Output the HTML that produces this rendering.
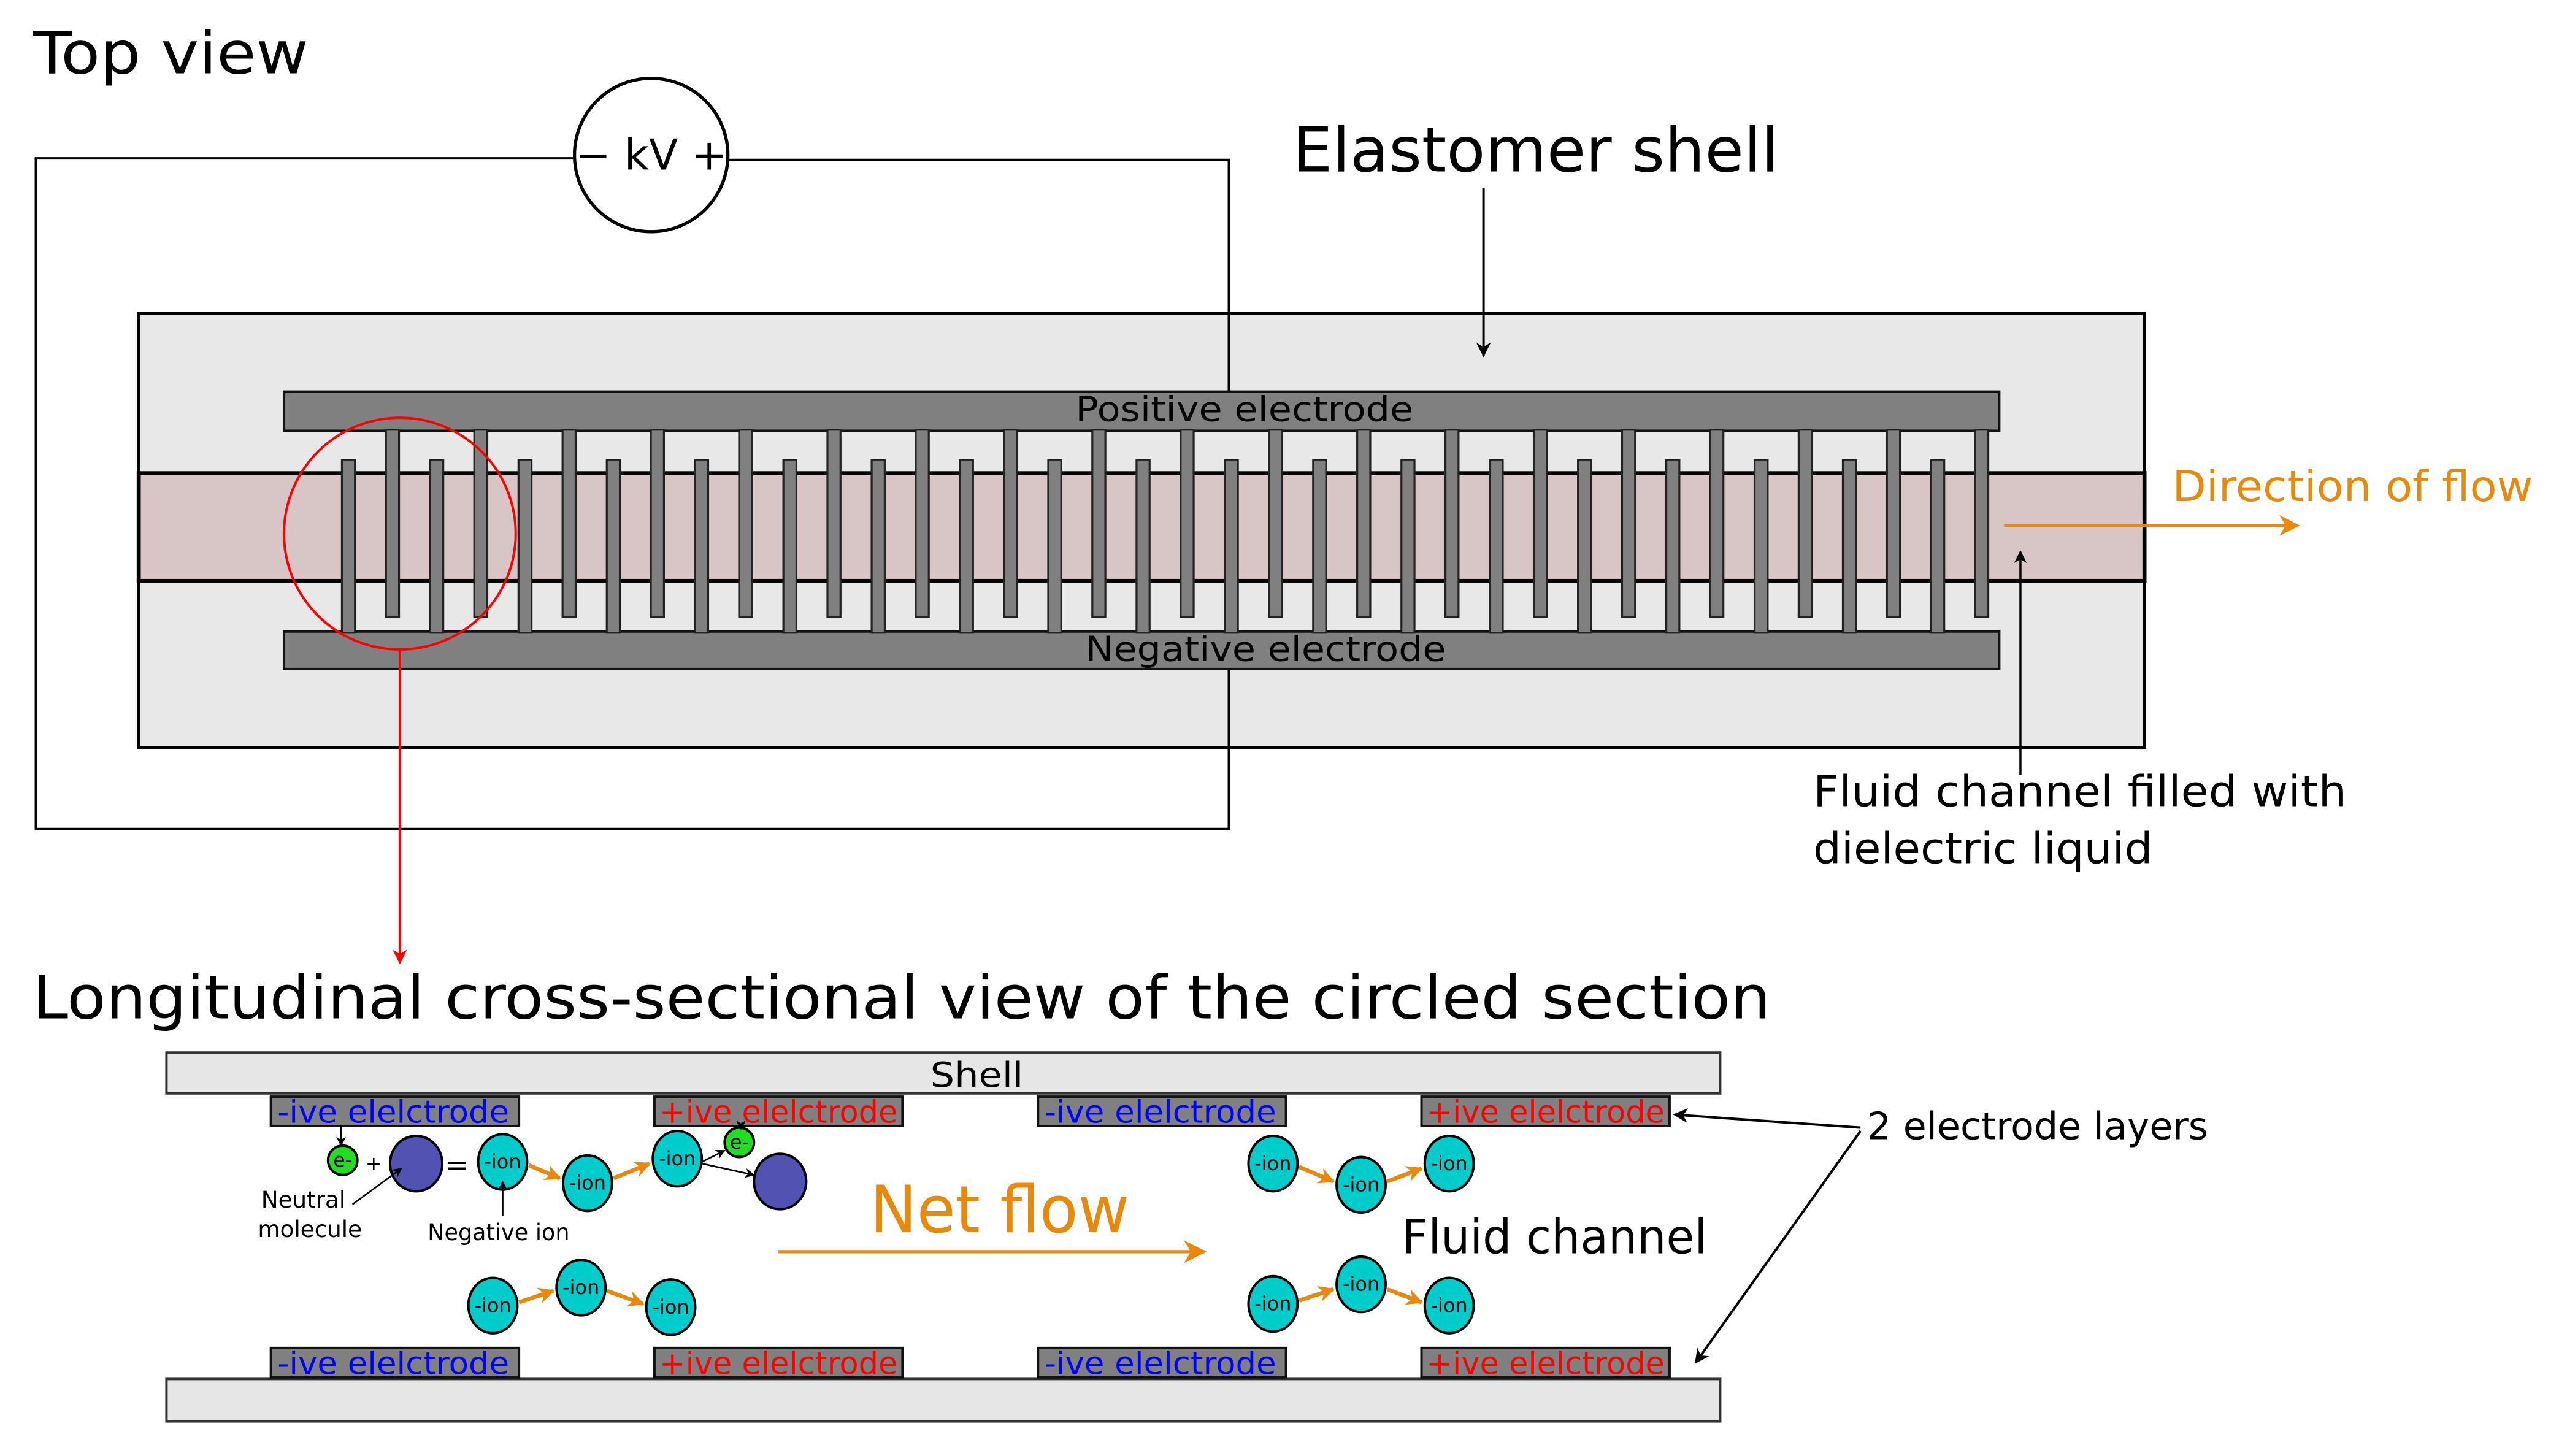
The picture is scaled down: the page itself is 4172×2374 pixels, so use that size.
<!DOCTYPE html>
<html><head><meta charset="utf-8"><style>
html,body{margin:0;padding:0;background:#fff;}
svg{display:block;}
text{font-family:"DejaVu Sans","Liberation Sans",sans-serif;}
</style></head><body>
<svg width="4172" height="2374" viewBox="0 0 1568 892.2" preserveAspectRatio="none" xmlns="http://www.w3.org/2000/svg">
<defs>
<marker id="ab" viewBox="0 0 10 10" refX="9" refY="5" markerWidth="6" markerHeight="6" orient="auto"><path d="M0,0 L10,5 L0,10 L3,5 z" fill="#000"/></marker>
<marker id="ar" viewBox="0 0 10 10" refX="9" refY="5" markerWidth="6" markerHeight="6" orient="auto"><path d="M0,0 L10,5 L0,10 L3,5 z" fill="#f00"/></marker>
<marker id="ao" viewBox="0 0 10 10" refX="9" refY="5" markerWidth="7" markerHeight="7" orient="auto"><path d="M0,0 L10,5 L0,10 L3,5 z" fill="#e8890c"/></marker>
<marker id="ao2" viewBox="0 0 10 10" refX="9" refY="5" markerWidth="4" markerHeight="4" orient="auto"><path d="M0,0 L10,5 L0,10 L3,5 z" fill="#e8890c"/></marker>
</defs>
<rect width="1568" height="892.2" fill="#fff"/>
<text x="20" y="45" font-size="36" textLength="169" lengthAdjust="spacingAndGlyphs">Top view</text>

<path d="M352,97 H22 V508 H753 V410" fill="none" stroke="#000" stroke-width="1.5"/>
<path d="M446,98 H753 V240" fill="none" stroke="#000" stroke-width="1.5"/>

<rect x="85" y="192" width="1229" height="266" fill="#e8e8e8" stroke="#000" stroke-width="2"/>
<path d="M753,192 V240 M753,410 V458" stroke="#000" stroke-width="1.5"/>

<circle cx="399" cy="95" r="47" fill="#fff" stroke="#000" stroke-width="2"/>
<text x="399" y="104" font-size="26" text-anchor="middle">− kV +</text>

<text x="792" y="105" font-size="38" textLength="298" lengthAdjust="spacingAndGlyphs">Elastomer shell</text>
<line x1="909" y1="115" x2="909" y2="218" stroke="#000" stroke-width="1.5" marker-end="url(#ab)"/>

<rect x="85" y="290" width="1229" height="66" fill="#d8c5c5" stroke="#000" stroke-width="2.5"/>

<rect x="174" y="240" width="1051" height="24" fill="#808080" stroke="#111" stroke-width="1.5"/>
<rect x="174" y="387" width="1051" height="23" fill="#808080" stroke="#111" stroke-width="1.5"/>

<g fill="#808080" stroke="#222" stroke-width="1.2">
<rect x="209.5" y="282" width="8" height="106"/><rect x="263.6" y="282" width="8" height="106"/><rect x="317.7" y="282" width="8" height="106"/><rect x="371.8" y="282" width="8" height="106"/><rect x="425.9" y="282" width="8" height="106"/><rect x="480" y="282" width="8" height="106"/><rect x="534.1" y="282" width="8" height="106"/><rect x="588.2" y="282" width="8" height="106"/><rect x="642.3" y="282" width="8" height="106"/><rect x="696.4" y="282" width="8" height="106"/><rect x="750.5" y="282" width="8" height="106"/><rect x="804.6" y="282" width="8" height="106"/><rect x="858.7" y="282" width="8" height="106"/><rect x="912.8" y="282" width="8" height="106"/><rect x="966.9" y="282" width="8" height="106"/><rect x="1021" y="282" width="8" height="106"/><rect x="1075.1" y="282" width="8" height="106"/><rect x="1129.2" y="282" width="8" height="106"/><rect x="1183.3" y="282" width="8" height="106"/>
<rect x="236.5" y="263" width="8" height="115"/><rect x="290.6" y="263" width="8" height="115"/><rect x="344.7" y="263" width="8" height="115"/><rect x="398.8" y="263" width="8" height="115"/><rect x="452.9" y="263" width="8" height="115"/><rect x="507" y="263" width="8" height="115"/><rect x="561.1" y="263" width="8" height="115"/><rect x="615.2" y="263" width="8" height="115"/><rect x="669.3" y="263" width="8" height="115"/><rect x="723.4" y="263" width="8" height="115"/><rect x="777.5" y="263" width="8" height="115"/><rect x="831.6" y="263" width="8" height="115"/><rect x="885.7" y="263" width="8" height="115"/><rect x="939.8" y="263" width="8" height="115"/><rect x="993.9" y="263" width="8" height="115"/><rect x="1048" y="263" width="8" height="115"/><rect x="1102.1" y="263" width="8" height="115"/><rect x="1156.2" y="263" width="8" height="115"/><rect x="1210.3" y="263" width="8" height="115"/>
</g>
<rect x="175" y="241" width="1049" height="22" fill="#808080"/>
<rect x="175" y="388" width="1049" height="21" fill="#808080"/>
<text x="659" y="258" font-size="21" textLength="207" lengthAdjust="spacingAndGlyphs">Positive electrode</text>
<text x="665" y="405" font-size="21" textLength="221" lengthAdjust="spacingAndGlyphs">Negative electrode</text>

<circle cx="245" cy="327" r="71" fill="none" stroke="#f00" stroke-width="1.5"/>
<line x1="245" y1="398" x2="245" y2="590" stroke="#f00" stroke-width="1.5" marker-end="url(#ar)"/>

<text x="1331" y="307" font-size="26" fill="#e8890c" textLength="221" lengthAdjust="spacingAndGlyphs">Direction of flow</text>
<line x1="1228" y1="322" x2="1408" y2="322" stroke="#e8890c" stroke-width="1.8" marker-end="url(#ao)"/>
<line x1="1238" y1="475" x2="1238" y2="338" stroke="#000" stroke-width="1.3" marker-end="url(#ab)"/>
<text x="1111" y="494" font-size="26" textLength="327" lengthAdjust="spacingAndGlyphs">Fluid channel filled with</text>
<text x="1111" y="529" font-size="26" textLength="208" lengthAdjust="spacingAndGlyphs">dielectric liquid</text>

<text x="20" y="624" font-size="37" textLength="1065" lengthAdjust="spacingAndGlyphs">Longitudinal cross-sectional view of the circled section</text>
<rect x="102" y="645" width="952" height="25" fill="#e6e6e6" stroke="#333" stroke-width="1.5"/>
<text x="570" y="666" font-size="21" textLength="57" lengthAdjust="spacingAndGlyphs">Shell</text>
<rect x="102" y="845" width="952" height="26" fill="#e6e6e6" stroke="#333" stroke-width="1.5"/>

<g stroke="#111" stroke-width="1.5" fill="#808080">
<rect x="166" y="672" width="152" height="18"/><rect x="401" y="672" width="152" height="18"/><rect x="636" y="672" width="152" height="18"/><rect x="871" y="672" width="152" height="18"/>
<rect x="166" y="826" width="152" height="18"/><rect x="401" y="826" width="152" height="18"/><rect x="636" y="826" width="152" height="18"/><rect x="871" y="826" width="152" height="18"/>
</g>
<g font-size="19">
<text x="170" y="688" fill="#0000ff" textLength="142" lengthAdjust="spacingAndGlyphs">-ive elelctrode</text>
<text x="404" y="688" fill="#ff0000" textLength="146" lengthAdjust="spacingAndGlyphs">+ive elelctrode</text>
<text x="640" y="688" fill="#0000ff" textLength="142" lengthAdjust="spacingAndGlyphs">-ive elelctrode</text>
<text x="874" y="688" fill="#ff0000" textLength="146" lengthAdjust="spacingAndGlyphs">+ive elelctrode</text>
<text x="170" y="842" fill="#0000ff" textLength="142" lengthAdjust="spacingAndGlyphs">-ive elelctrode</text>
<text x="404" y="842" fill="#ff0000" textLength="146" lengthAdjust="spacingAndGlyphs">+ive elelctrode</text>
<text x="640" y="842" fill="#0000ff" textLength="142" lengthAdjust="spacingAndGlyphs">-ive elelctrode</text>
<text x="874" y="842" fill="#ff0000" textLength="146" lengthAdjust="spacingAndGlyphs">+ive elelctrode</text>
</g>

<g stroke="#000" stroke-width="1.5">
<circle cx="210" cy="711" r="9" fill="#22dd22"/>
<circle cx="453" cy="700" r="9" fill="#22dd22"/>
<ellipse cx="255" cy="713" rx="16" ry="17" fill="#5252b2"/>
<ellipse cx="478" cy="724" rx="16" ry="17" fill="#5252b2"/>
<g fill="#00cccc">
<ellipse cx="308" cy="712" rx="15" ry="17"/><ellipse cx="360" cy="725" rx="15" ry="17"/><ellipse cx="415" cy="710" rx="15" ry="17"/>
<ellipse cx="780" cy="713" rx="15" ry="17"/><ellipse cx="834" cy="726" rx="15" ry="17"/><ellipse cx="888" cy="713" rx="15" ry="17"/>
<ellipse cx="302" cy="800" rx="15" ry="17"/><ellipse cx="356" cy="789" rx="15" ry="17"/><ellipse cx="411" cy="801" rx="15" ry="17"/>
<ellipse cx="780" cy="799" rx="15" ry="17"/><ellipse cx="834" cy="787" rx="15" ry="17"/><ellipse cx="888" cy="800" rx="15" ry="17"/>
</g>
</g>
<g font-size="12" text-anchor="middle">
<text x="210" y="715">e-</text><text x="453" y="704">e-</text>
<text x="308" y="716">-ion</text><text x="360" y="729">-ion</text><text x="415" y="714">-ion</text>
<text x="780" y="717">-ion</text><text x="834" y="730">-ion</text><text x="888" y="717">-ion</text>
<text x="302" y="804">-ion</text><text x="356" y="793">-ion</text><text x="411" y="805">-ion</text>
<text x="780" y="803">-ion</text><text x="834" y="791">-ion</text><text x="888" y="804">-ion</text>
</g>
<text x="229" y="717" font-size="12" text-anchor="middle">+</text>
<text x="280" y="720" font-size="18" text-anchor="middle">=</text>
<text x="160" y="740" font-size="14">Neutral</text>
<text x="158" y="758" font-size="14">molecule</text>
<text x="262" y="760" font-size="14" textLength="87" lengthAdjust="spacingAndGlyphs">Negative ion</text>
<g stroke="#000" stroke-width="1" fill="none" marker-end="url(#ab)">
<line x1="209" y1="690" x2="209" y2="702"/>
<line x1="216" y1="738" x2="246" y2="716"/>
<line x1="308" y1="745" x2="308" y2="724"/>
<line x1="454" y1="690" x2="454" y2="692"/>
<line x1="430" y1="712" x2="444" y2="705"/>
<line x1="430" y1="713" x2="462" y2="720"/>
</g>
<g stroke="#e8890c" stroke-width="2.5" marker-end="url(#ao2)">
<line x1="324" y1="714" x2="343" y2="722"/><line x1="376" y1="722" x2="398" y2="713"/>
<line x1="796" y1="715" x2="817" y2="724"/><line x1="850" y1="724" x2="871" y2="716"/>
<line x1="318" y1="798" x2="339" y2="791"/><line x1="372" y1="791" x2="394" y2="799"/>
<line x1="796" y1="797" x2="817" y2="790"/><line x1="850" y1="790" x2="871" y2="798"/>
</g>

<text x="533" y="755" font-size="40" fill="#e8890c" textLength="159" lengthAdjust="spacingAndGlyphs">Net flow</text>
<line x1="477" y1="767" x2="738" y2="767" stroke="#e8890c" stroke-width="2" marker-end="url(#ao)"/>
<text x="859" y="768" font-size="29" textLength="187" lengthAdjust="spacingAndGlyphs">Fluid channel</text>
<text x="1144" y="698" font-size="23" textLength="209" lengthAdjust="spacingAndGlyphs">2 electrode layers</text>
<line x1="1140" y1="691" x2="1026" y2="683" stroke="#000" stroke-width="1.5" marker-end="url(#ab)"/>
<line x1="1140" y1="693" x2="1039" y2="835" stroke="#000" stroke-width="1.5" marker-end="url(#ab)"/>
</svg>
</body></html>
